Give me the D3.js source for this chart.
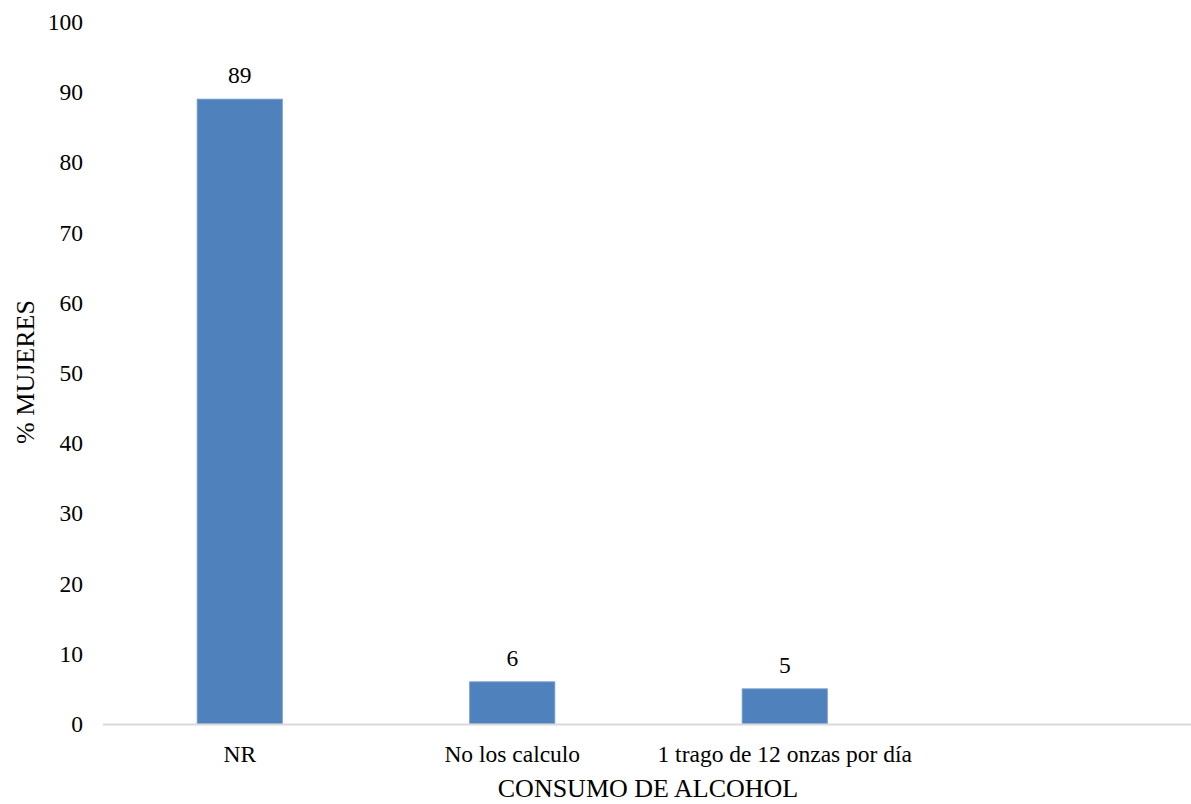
<!DOCTYPE html>
<html><head><meta charset="utf-8">
<script src="https://cdn.jsdelivr.net/npm/d3@7"></script>
<style>body{margin:0;background:#fff}svg{display:block}</style>
</head><body>
<svg id="c" width="1191" height="804"></svg>
<script>
const categories = ["NR", "No los calculo", "1 trago de 12 onzas por día", ""];
const values = [89, 6, 5, null];
const yTicks = [0, 10, 20, 30, 40, 50, 60, 70, 80, 90, 100];

const FONT = "Liberation Serif";
const FS = 23.5;
const svg = d3.select("#c");
const x = d3.scaleBand().domain(categories).range([103.5, 1193.5]).paddingInner(0.688).paddingOuter(0.344);
const y = d3.scaleLinear().domain([0, 100]).range([724, 22]);

// y tick labels
svg.append("g").selectAll("text").data(yTicks).join("text")
  .attr("x", 83).attr("y", d => y(d)).attr("dy", "0.34em")
  .attr("font-family", FONT).attr("font-size", FS)
  .attr("text-anchor", "end").text(d => d);

// bars
const data = categories.map((c, i) => ({c, v: values[i]})).filter(d => d.v != null);
svg.append("g").selectAll("rect").data(data).join("rect")
  .attr("x", d => x(d.c)).attr("width", x.bandwidth())
  .attr("y", d => y(d.v)).attr("height", d => y(0) - y(d.v))
  .attr("fill", "#4f81bd").attr("stroke", "#6f97cb").attr("stroke-width", 1);

// value labels
svg.append("g").selectAll("text").data(data).join("text")
  .attr("x", d => x(d.c) + x.bandwidth() / 2).attr("y", d => y(d.v) - 16)
  .attr("font-family", FONT).attr("font-size", FS)
  .attr("text-anchor", "middle").text(d => d.v);

// x axis line
svg.append("line").attr("x1", 103).attr("x2", 1191).attr("y1", y(0) + 0.5).attr("y2", y(0) + 0.5)
  .attr("stroke", "#d9d9d9").attr("stroke-width", 2);

// category labels
svg.append("g").selectAll("text").data(categories).join("text")
  .attr("x", d => x(d) + x.bandwidth() / 2).attr("y", 762)
  .attr("font-family", FONT).attr("font-size", FS)
  .attr("text-anchor", "middle").text(d => d);

// axis titles
svg.append("text").attr("x", 648).attr("y", 797).attr("text-anchor", "middle")
  .attr("font-family", FONT).attr("font-size", 26).text("CONSUMO DE ALCOHOL");
svg.append("text").attr("transform", "translate(34,372) rotate(-90)").attr("text-anchor", "middle")
  .attr("font-family", FONT).attr("font-size", 26).text("% MUJERES");
</script>
</body></html>
